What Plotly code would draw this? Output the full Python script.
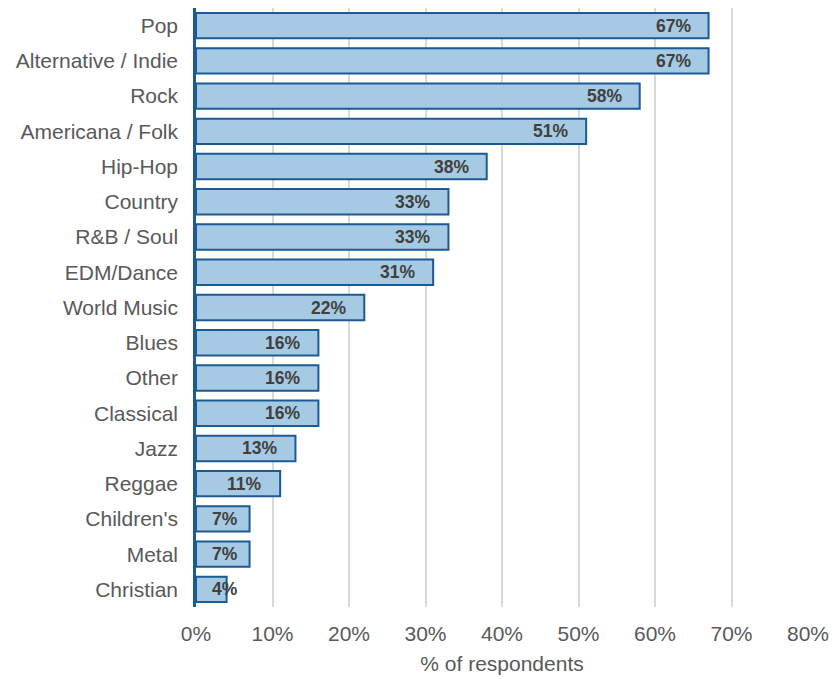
import plotly.graph_objects as go

categories = ["Pop", "Alternative / Indie", "Rock", "Americana / Folk", "Hip-Hop", "Country",
              "R&B / Soul", "EDM/Dance", "World Music", "Blues", "Other", "Classical", "Jazz",
              "Reggae", "Children's", "Metal", "Christian"]
values = [67, 67, 58, 51, 38, 33, 33, 31, 22, 16, 16, 16, 13, 11, 7, 7, 4]
x_ticks = [0, 10, 20, 30, 40, 50, 60, 70, 80]
x_tick_labels = [f"{v}%" for v in x_ticks]

FILL = "#A6CAE3"
EDGE = "#1B5A94"
TEXT = "#595959"
FONT = "Liberation Sans"
FS = 21

fig = go.Figure(go.Bar(
    y=categories, x=values, orientation="h",
    marker=dict(color=FILL, line=dict(color=EDGE, width=2)),
    width=0.72, hoverinfo="skip",
))

annotations = []
for c, v in zip(categories, values):
    if v < 9:
        annotations.append(dict(x=0, y=c, xref="x", yref="y", text=f"<b>{v}%</b>",
                                showarrow=False, xanchor="left", xshift=14,
                                font=dict(family=FONT, size=17.5, color="#404040")))
    else:
        annotations.append(dict(x=v, y=c, xref="x", yref="y", text=f"<b>{v}%</b>",
                                showarrow=False, xanchor="right", xshift=-16,
                                font=dict(family=FONT, size=17.5, color="#404040")))

fig.update_layout(
    width=829, height=671,
    margin=dict(l=188, r=29, t=0, b=72, autoexpand=False),
    paper_bgcolor="white", plot_bgcolor="white",
    font=dict(family=FONT, size=FS, color=TEXT),
    showlegend=False,
    annotations=annotations,
    xaxis=dict(range=[0, 80], tickvals=x_ticks, ticktext=x_tick_labels,
               showgrid=True, gridcolor="#D9D9D9", gridwidth=2, zeroline=False,
               showline=False, ticks="outside", ticklen=8, tickcolor="rgba(0,0,0,0)",
               tickfont=dict(family=FONT, size=FS, color=TEXT), automargin=False,
               title=dict(text="% of respondents", font=dict(family=FONT, size=FS, color=TEXT), standoff=12),
               fixedrange=True),
    yaxis=dict(categoryorder="array", categoryarray=categories, autorange=False,
               showline=True, linecolor=EDGE, linewidth=2.5, showgrid=False,
               ticks="outside", ticklen=11, tickcolor="rgba(0,0,0,0)", automargin=False,
               tickfont=dict(family=FONT, size=FS, color=TEXT), range=[16.5, -0.5], fixedrange=True),
)

fig.write_html("out.html")
